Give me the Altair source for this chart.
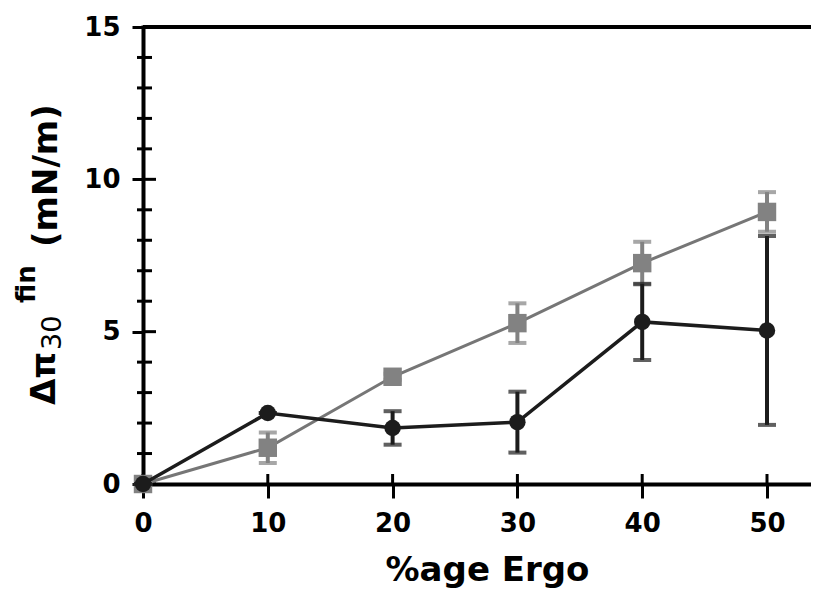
import altair as alt
import pandas as pd

# ---- data ----
ergo = [0, 10, 20, 30, 40, 50]
dark_mean = [0, 2.33, 1.84, 2.03, 5.32, 5.04]
dark_err = [0, 0, 0.55, 1.0, 1.25, 3.1]
grey_mean = [0, 1.19, 3.52, 5.28, 7.25, 8.93]
grey_err = [0, 0.5, 0.1, 0.65, 0.7, 0.65]

x_ticks = [0, 10, 20, 30, 40, 50]
y_major = [0, 5, 10, 15]
y_minor = [1, 2, 3, 4, 6, 7, 8, 9, 11, 12, 13, 14]

FONT = "DejaVu Sans"
W, H = 668, 457
XMAX = W / 12.48
DARK = "#1c1c1c"
GREY = "#828282"
GREY_LINE = "#767676"

def frame(mean, err):
    return pd.DataFrame({
        "x": ergo,
        "y": mean,
        "lo": [m - e for m, e in zip(mean, err)],
        "hi": [m + e for m, e in zip(mean, err)],
    })

dark = frame(dark_mean, dark_err)
grey = frame(grey_mean, grey_err)

xs = alt.Scale(domain=[0, XMAX], nice=False, zero=False)
ys = alt.Scale(domain=[0, 15], nice=False)

x_axis = alt.Axis(values=x_ticks, format="d", title="%age Ergo", grid=False,
                  domainWidth=4, domainColor="black", domainCap="square",
                  tickSize=14, tickWidth=3, tickColor="black",
                  labelFont=FONT, labelFontSize=26, labelFontWeight="bold",
                  labelColor="black", labelPadding=12, labelFlush=False,
                  titleFont=FONT, titleFontSize=34, titleFontWeight="bold",
                  titleColor="black", titleX=344, titleY=96,
                  titleAlign="center", titleBaseline="alphabetic")
y_axis = alt.Axis(values=y_major, format="d", title="", grid=False,
                  domainWidth=4, domainColor="black", domainCap="square",
                  tickSize=11, tickWidth=3, tickColor="black",
                  labelFont=FONT, labelFontSize=26, labelFontWeight="bold",
                  labelColor="black", labelPadding=12, labelFlush=False)

def X(field="x"):
    return alt.X(f"{field}:Q", scale=xs, axis=x_axis)

def Y(field="y"):
    return alt.Y(f"{field}:Q", scale=ys, axis=y_axis)

layers = []

# inner halves of ticks and minor ticks
layers.append(alt.Chart(pd.DataFrame({"v": y_major})).mark_rule(
    color="black", strokeWidth=3).encode(
    y=Y("v"), x=alt.value(0), x2=alt.value(13)))
layers.append(alt.Chart(pd.DataFrame({"v": y_minor})).mark_rule(
    color="black", strokeWidth=3).encode(
    y=Y("v"), x=alt.value(-6), x2=alt.value(9)))
layers.append(alt.Chart(pd.DataFrame({"v": x_ticks})).mark_rule(
    color="black", strokeWidth=3).encode(
    x=X("v"), y=alt.value(H), y2=alt.value(H - 10)))

# top frame line
layers.append(alt.Chart(pd.DataFrame({"v": [15]})).mark_rule(
    color="black", strokeWidth=4).encode(
    y=Y("v"), x=alt.value(0), x2=alt.value(W)))

def series(df, color, line_color, shape, size, lw):
    out = []
    out.append(alt.Chart(df).mark_line(color=line_color, strokeWidth=lw).encode(
        x=X(), y=Y()))
    out.append(alt.Chart(df).mark_rule(color=color, strokeWidth=4).encode(
        x=X(), y=Y("lo"), y2="hi"))
    out.append(alt.Chart(df).mark_tick(color=color, orient="horizontal",
                                       size=18, thickness=4).encode(
        x=X(), y=Y("lo")))
    out.append(alt.Chart(df).mark_tick(color=color, orient="horizontal",
                                       size=18, thickness=4).encode(
        x=X(), y=Y("hi")))
    out.append(alt.Chart(df).mark_point(shape=shape, filled=True, color=color,
                                        size=size, opacity=1).encode(
        x=X(), y=Y()))
    return out

layers += series(grey, GREY, GREY_LINE, "square", 340, 3)
layers += series(dark, DARK, DARK, "circle", 270, 3.5)

# y-axis title pieces: Δπ_30^fin (mN/m)
def label(text, x, y, size, weight):
    return alt.Chart(alt.Data(values=[{}])).mark_text(
        text=text, angle=270, align="left", baseline="alphabetic",
        font=FONT, fontSize=size, fontWeight=weight, color="black").encode(
        x=alt.value(x), y=alt.value(y))

layers.append(label("Δπ", -88, 378, 34, "bold"))
layers.append(label("30", -82, 323, 27, "normal"))
layers.append(label("fin", -108, 276, 26, "bold"))
layers.append(label("(mN/m)", -86, 220, 34, "bold"))

chart = alt.layer(*layers).properties(
    width=W, height=H,
    autosize=alt.AutoSizeParams(type="none"),
    padding={"left": 135, "top": 19, "right": 0, "bottom": 107},
    background="white",
).configure_view(stroke=None)

chart.save("out.html", embed_options={"renderer": "svg", "actions": False})
